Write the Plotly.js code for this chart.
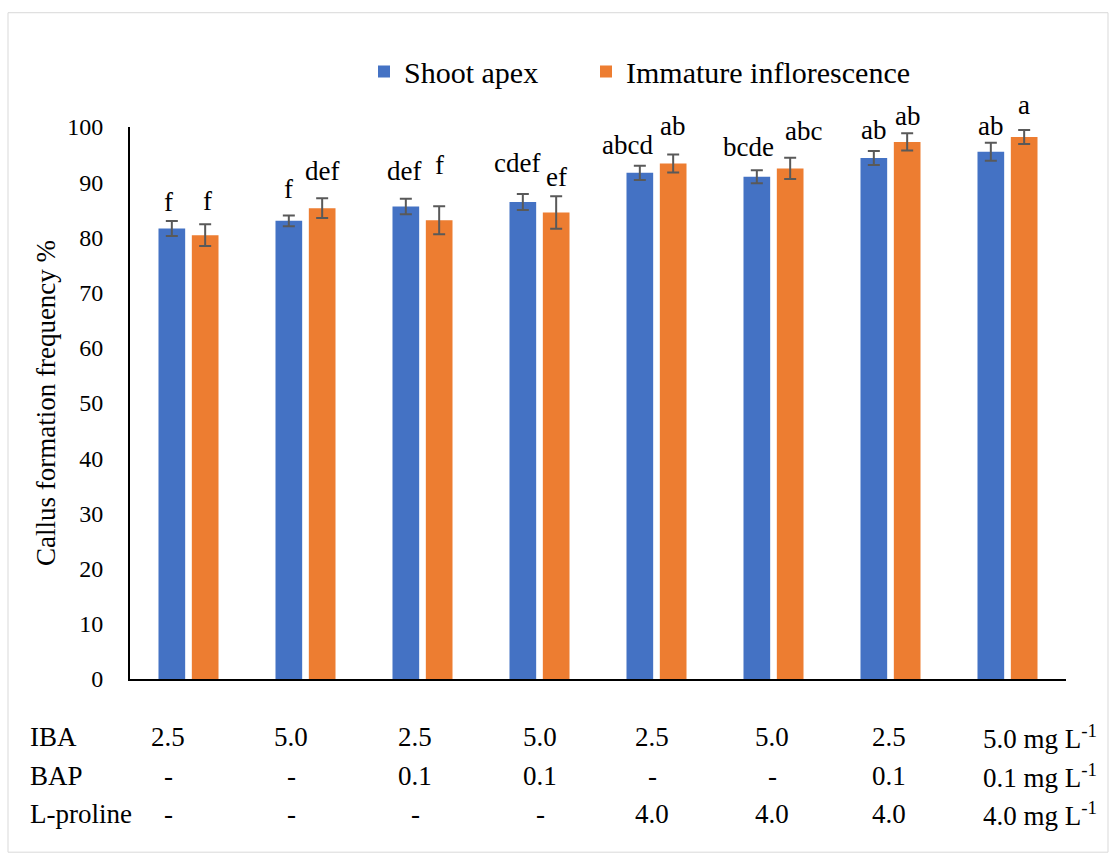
<!DOCTYPE html>
<html>
<head>
<meta charset="utf-8">
<script src="https://cdn.plot.ly/plotly-3.0.1.min.js"></script>
<style>html,body{margin:0;padding:0;background:#fff;}#chart{width:1116px;height:862px;}</style>
</head>
<body>
<div id="chart"></div>
<script>
// ---- data ----
var treatments = ["T1","T2","T3","T4","T5","T6","T7","T8"];
var shootApex = [81.6, 83.0, 85.6, 86.4, 91.7, 91.0, 94.4, 95.5];
var shootApexErr = [1.36, 0.97, 1.42, 1.45, 1.3, 1.18, 1.27, 1.63];
var inflorescence = [80.4, 85.3, 83.1, 84.5, 93.4, 92.5, 97.3, 98.2];
var inflorescenceErr = [1.96, 1.8, 2.53, 2.95, 1.63, 1.93, 1.57, 1.27];
var shootApexLetters = ["f","f","def","cdef","abcd","bcde","ab","ab"];
var inflorescenceLetters = ["f","def","f","ef","ab","abc","ab","a"];
var rowNames = ["IBA","BAP","L-proline"];
var ibaLevels = ["2.5","5.0","2.5","5.0","2.5","5.0","2.5","5.0 mg L<sup>-1</sup>"];
var bapLevels = ["-","-","0.1","0.1","-","-","0.1","0.1 mg L<sup>-1</sup>"];
var prolineLevels = ["-","-","-","-","4.0","4.0","4.0","4.0 mg L<sup>-1</sup>"];
var yTicks = [0,10,20,30,40,50,60,70,80,90,100];

// ---- layout geometry (pixels) ----
var W = 1116, H = 862;
var mL = 130, mR = 50, mT = 126.5, mB = 182.5;
var pw = W - mL - mR, ph = H - mT - mB;
function px2x(p){ return (p - mL) / pw; }
function py2y(p){ return (H - mB - p) / ph; }

var FONT = 'Liberation Serif, Times New Roman, serif';
var BLUE = '#4472C4', ORANGE = '#ED7D31';

// letter label nudges (px), as placed in the original figure
var blueNudgeX = [-3, 0, -2, -6, -12, -8, 0, 0];
var blueNudgeY = [2, 9, 11, 14, 4, 6, 4, 0];
var orangeNudgeX = [2, 0, 0, 0, -1, 13, 0, 0];
var orangeNudgeY = [6, 10, 24, 2, 11, 10, 0, 8];

var traces = [
  {type:'bar', name:'Shoot apex', x:treatments, y:shootApex, legend:'legend',
   marker:{color:BLUE},
   error_y:{type:'data', array:shootApexErr, visible:true, color:'#595959', thickness:2, width:6}},
  {type:'bar', name:'Immature inflorescence', x:treatments, y:inflorescence, legend:'legend2',
   marker:{color:ORANGE},
   error_y:{type:'data', array:inflorescenceErr, visible:true, color:'#595959', thickness:2, width:6}}
];

var annotations = [];
var slot = 0.2857; // distance between the two bars of a group, in category units
for (var i = 0; i < treatments.length; i++) {
  annotations.push({x:i - slot/2, xref:'x', y:shootApex[i] + shootApexErr[i], yref:'y',
    text:shootApexLetters[i], showarrow:false, yanchor:'bottom', xanchor:'center',
    xshift:blueNudgeX[i], yshift:blueNudgeY[i],
    font:{family:FONT, size:27, color:'#000'}});
  annotations.push({x:i + slot/2, xref:'x', y:inflorescence[i] + inflorescenceErr[i], yref:'y',
    text:inflorescenceLetters[i], showarrow:false, yanchor:'bottom', xanchor:'center',
    xshift:orangeNudgeX[i], yshift:orangeNudgeY[i],
    font:{family:FONT, size:27, color:'#000'}});
}
// treatment table below the axis
var colX = [168, 291, 415, 540, 652, 772, 889];
var lastColLeft = 981;
var rowY = [738, 777, 815];
var rows = [ibaLevels, bapLevels, prolineLevels];
for (var r = 0; r < rows.length; r++) {
  annotations.push({x:px2x(28), y:py2y(rowY[r]), xref:'paper', yref:'paper', text:rowNames[r],
    showarrow:false, xanchor:'left', yanchor:'middle', font:{family:FONT, size:27, color:'#000'}});
  for (var c = 0; c < rows[r].length; c++) {
    var last = (c === rows[r].length - 1);
    annotations.push({x: last ? px2x(lastColLeft) : px2x(colX[c]), y:py2y(rowY[r]),
      xref:'paper', yref:'paper', text:rows[r][c], showarrow:false,
      xanchor: last ? 'left' : 'center', yanchor:'middle',
      font:{family:FONT, size:27, color:'#000'}});
  }
}

var legendStyle = function(leftPx){
  return {orientation:'h', x:px2x(leftPx), xanchor:'left', y:py2y(71), yanchor:'middle',
    font:{family:FONT, size:30, color:'#000'}, bgcolor:'rgba(0,0,0,0)'};
};

var layout = {
  width:W, height:H,
  margin:{l:mL, r:mR, t:mT, b:mB, pad:0},
  paper_bgcolor:'#fff', plot_bgcolor:'#fff',
  font:{family:FONT, color:'#000'},
  barmode:'group', bargap:0.43, bargroupgap:0.2,
  showlegend:true,
  legend:legendStyle(364),
  legend2:legendStyle(586),
  xaxis:{type:'category', showticklabels:false, ticks:'', showgrid:false, zeroline:false,
    showline:true, linecolor:'#000', linewidth:2, fixedrange:true},
  yaxis:{range:[0,100], tickvals:yTicks, ticks:'', showgrid:false, zeroline:false,
    showline:true, linecolor:'#000', linewidth:2, ticklabelstandoff:20,
    tickfont:{family:FONT, size:24, color:'#000'},
    title:{text:'Callus formation frequency %', font:{family:FONT, size:27, color:'#000'}, standoff:4},
    automargin:false, fixedrange:true},
  annotations:annotations,
  shapes:[{type:'rect', xref:'paper', yref:'paper', x0:px2x(8), x1:px2x(1108), y0:py2y(853), y1:py2y(12),
    line:{color:'#d9d9d9', width:1}, fillcolor:'rgba(0,0,0,0)', layer:'below'}]
};

Plotly.newPlot('chart', traces, layout, {displayModeBar:false, staticPlot:true});
</script>
</body>
</html>
